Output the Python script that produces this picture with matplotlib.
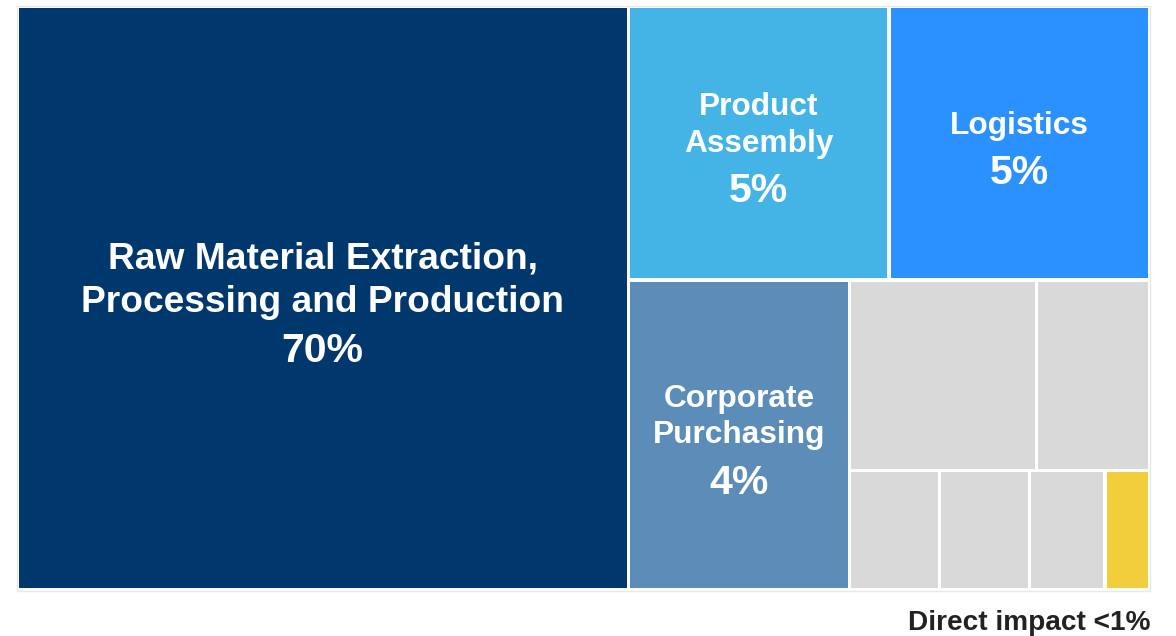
import matplotlib.pyplot as plt
from matplotlib.patches import Rectangle

plt.rcParams['font.family'] = ['Liberation Sans', 'DejaVu Sans']

# tile labels, stated shares and tile sizes (area weights)
labels = [
    "Raw Material Extraction,\nProcessing and Production",
    "Product\nAssembly",
    "Logistics",
    "Corporate\nPurchasing",
    "", "", "", "", "", "",
]
shares = ["70%", "5%", "5%", "4%", "", "", "", "", "", ""]
sizes = [54.0, 10.8, 10.8, 10.35, 5.4, 3.26, 1.62, 1.62, 1.36, 0.80]
colors = ["#00386E", "#43B4E5", "#2B91FF", "#5B8DB8",
          "#D9D9D9", "#D9D9D9", "#D9D9D9", "#D9D9D9", "#D9D9D9", "#F2CE3C"]
footnote = "Direct impact <1%"

# nesting of the tiles: alternate horizontal / vertical slicing
tree = [0, [[1, 2], [3, [[4, 5], [6, 7, 8, 9]]]]]


def total(node):
    if isinstance(node, int):
        return sizes[node]
    return sum(total(n) for n in node)


def slice_dice(node, x, y, w, h, horizontal, out):
    if isinstance(node, int):
        out[node] = (x, y, w, h)
        return
    t = total(node)
    for child in node:
        frac = total(child) / t
        if horizontal:
            slice_dice(child, x, y, w * frac, h, not horizontal, out)
            x += w * frac
        else:
            slice_dice(child, x, y, w, h * frac, not horizontal, out)
            y += h * frac


fig = plt.figure(figsize=(11.76, 6.36), dpi=100)
ax = fig.add_axes([0, 0, 1, 1])
ax.set_xlim(0, 1176)
ax.set_ylim(636, 0)
ax.axis('off')

x0, y0, x1, y1 = 17.0, 6.5, 1149.5, 589.5
ax.add_patch(Rectangle((x0 - 0.5, y0 - 1), x1 - x0 + 1, y1 - y0 + 2,
                       facecolor='none', edgecolor='#E8E8E8', lw=1))

rects = {}
slice_dice(tree, x0, y0, x1 - x0, y1 - y0, True, rects)

pad = 1.7
pct_px = 41
for i, (x, y, w, h) in rects.items():
    ax.add_patch(Rectangle((x + pad, y + pad), w - 2 * pad, h - 2 * pad,
                           facecolor=colors[i], edgecolor='none'))
    if not labels[i]:
        continue
    lines = labels[i].split("\n")
    lab_px = 37.1 if i == 0 else 31.6
    step = 1.17 * lab_px
    gap = 1.23 * pct_px
    block = 0.72 * lab_px + (len(lines) - 1) * step + gap
    cx = x + w / 2
    base = y + h / 2 + block / 2 + 4
    ax.text(cx, base, shares[i], ha='center', va='baseline', color='white',
            fontsize=pct_px * 0.72, fontweight='bold')
    for k, line in enumerate(reversed(lines)):
        ax.text(cx, base - gap - k * step, line, ha='center', va='baseline',
                color='white', fontsize=lab_px * 0.72, fontweight='bold')

ax.text(1150, 630, footnote, ha='right', va='baseline', color='#222222',
        fontsize=20.2, fontweight='bold')

fig.savefig("out.png", dpi=100)
